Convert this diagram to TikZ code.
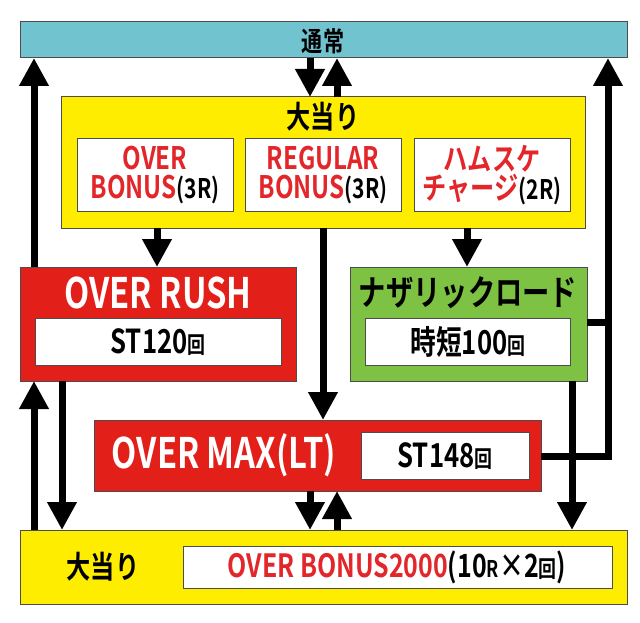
\documentclass[tikz,border=0pt]{standalone}
\usepackage{fontspec}
\setmainfont{Noto Sans CJK JP Bold}[FakeStretch=0.78]
\usetikzlibrary{arrows.meta}
\definecolor{cy}{HTML}{72C3D0}
\definecolor{yl}{HTML}{FFED00}
\definecolor{rd}{HTML}{E31F1A}
\definecolor{gr}{HTML}{7DC242}
\definecolor{tr}{HTML}{E3262A}
\tikzset{
 box/.style={draw=black!70, line width=1pt},
 wbox/.style={draw=black!70, line width=1pt, fill=white},
 arr/.style={line width=7pt, -{Triangle[width=28pt,length=28pt]}},
 ln/.style={line width=7pt},
 sub/.style={align=center, text=tr, font=\fs{31}},
}
\newcommand{\fs}[1]{\fontsize{#1}{#1}\selectfont}
\begin{document}
\begin{tikzpicture}[x=1pt,y=-1pt]
\useasboundingbox (0,0) rectangle (640,623);
% boxes
\draw[box,fill=cy] (20,22) rectangle (627,58);
\node (tsu) at (323,41) {\fs{27}通常};
\draw[box,fill=yl] (61,97) rectangle (585,228);
\node (oa1) at (323,117) {\fs{31}大当り};
\draw[wbox] (77,139) rectangle (233,211);
\node[sub] (b1) at (155,175) {OVER\\[-2pt]BONUS\textcolor{black}{\fs{27}(3R)}};
\draw[wbox] (245,139) rectangle (401,211);
\node[sub] (b2) at (323,175) {REGULAR\\[-2pt]BONUS\textcolor{black}{\fs{27}(3R)}};
\draw[wbox] (414,139) rectangle (570,211);
\node[sub] (b3) at (492,175) {ハムスケ\\[-2pt]チャージ\textcolor{black}{\fs{27}(2R)}};
\draw[box,fill=rd] (20,267) rectangle (296,381);
\node[text=white] (rush) at (158,293) {\fs{42}OVER RUSH};
\draw[wbox] (35,318) rectangle (281,365);
\node (st120) at (158,342) {\fs{33}ST120\fs{23}回};
\draw[box,fill=gr] (350,267) rectangle (587,381);
\node (naz) at (468,293) {\fs{35}ナザリックロード};
\draw[wbox] (365,318) rectangle (570,365);
\node (jit) at (468,342) {\fs{33}時短100\fs{23}回};
\draw[box,fill=rd] (94,420) rectangle (541,491);
\node[text=white] (max) at (224,455) {\fs{42}OVER MAX(LT)};
\draw[wbox] (361,432) rectangle (529,479);
\node (st148) at (445,456) {\fs{33}ST148\fs{23}回};
\draw[box,fill=yl] (20,530) rectangle (627,604);
\node (oa2) at (103,567) {\fs{31}大当り};
\draw[wbox] (183,546) rectangle (612,588);
\node[text=tr] (ob) at (397,567) {\fs{32}OVER BONUS2000\textcolor{black}{(10\fs{23}R\fs{32}×2\fs{23}回\fs{32})}};
% arrows
\draw[arr] (310,58) -- (310,97);
\draw[arr] (337,97) -- (337,58);
\draw[arr] (34,267) -- (34,58);
\draw[arr] (157,228) -- (157,267);
\draw[arr] (467,228) -- (467,267);
\draw[arr] (323,228) -- (323,420);
\draw[arr] (62,381) -- (62,530);
\draw[arr] (34,530) -- (34,381);
\draw[arr] (310,491) -- (310,530);
\draw[arr] (337,530) -- (337,491);
\draw[arr] (572,381) -- (572,530);
\draw[ln] (587,322) -- (608,322);
\draw[ln] (541,456) -- (611.5,456);
\draw[arr] (608,459.5) -- (608,58);
\end{tikzpicture}
\end{document}
